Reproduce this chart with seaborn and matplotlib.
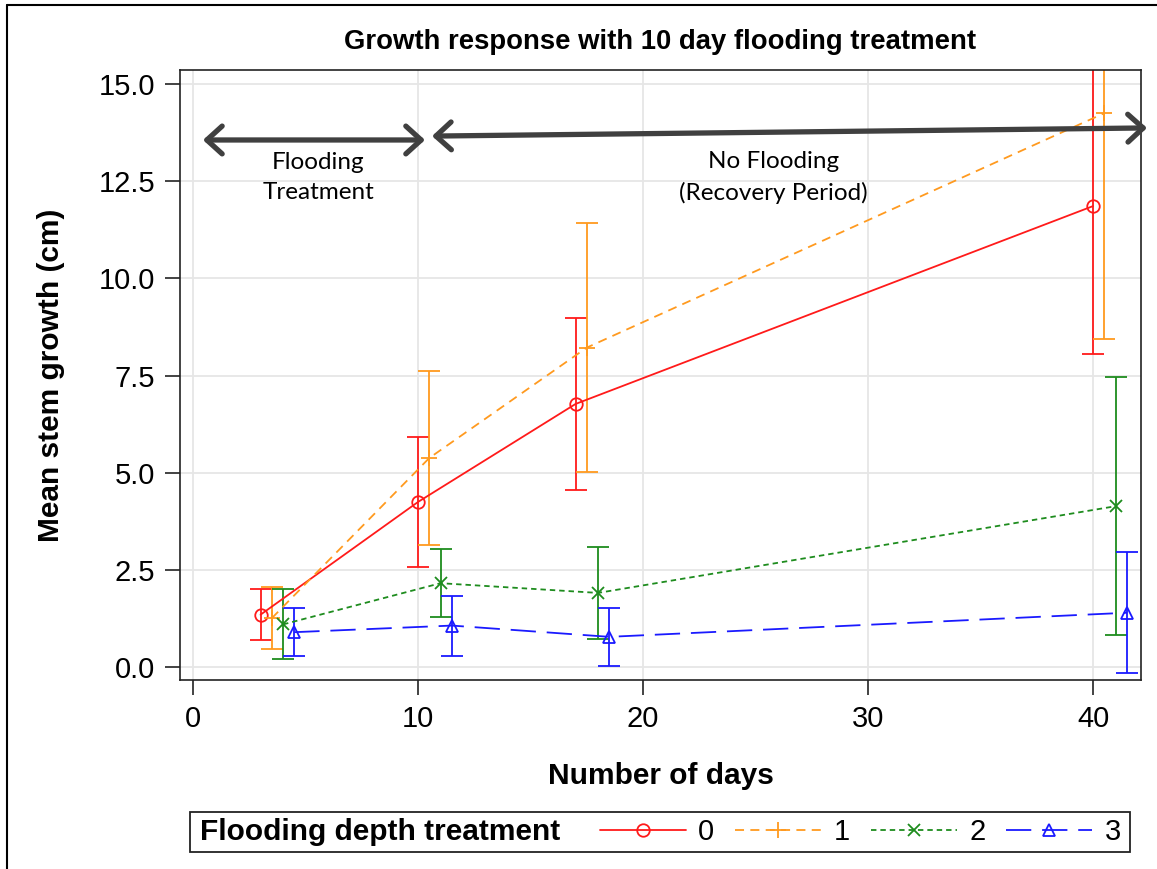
import numpy as np
import pandas as pd
import seaborn as sns
import matplotlib.pyplot as plt
from matplotlib.lines import Line2D
from matplotlib.patches import Rectangle

# Measurement days for each flooding depth (staggered so the error bars stay readable)
days_0 = [3.0, 10.0, 17.0, 40.0]
days_1 = [3.5, 10.5, 17.5, 40.5]
days_2 = [4.0, 11.0, 18.0, 41.0]
days_3 = [4.5, 11.5, 18.5, 41.5]

# Mean stem growth (cm)
mean_0 = [1.35, 4.25, 6.77, 11.86]
mean_1 = [1.26, 5.38, 8.22, 14.25]
mean_2 = [1.10, 2.16, 1.91, 4.14]
mean_3 = [0.90, 1.07, 0.78, 1.40]

# Lower / upper limits of the error bars
lower_0 = [0.69, 2.57, 4.55, 8.05]
upper_0 = [2.01, 5.93, 8.99, 15.67]
lower_1 = [0.47, 3.13, 5.02, 8.43]
upper_1 = [2.05, 7.63, 11.42, 20.07]
lower_2 = [0.20, 1.29, 0.72, 0.82]
upper_2 = [2.00, 3.03, 3.10, 7.46]
lower_3 = [0.29, 0.30, 0.03, -0.15]
upper_3 = [1.51, 1.84, 1.53, 2.95]

depth_labels = ["0", "1", "2", "3"]
x_ticks = [0, 10, 20, 30, 40]
y_ticks = [0.0, 2.5, 5.0, 7.5, 10.0, 12.5, 15.0]

days = [days_0, days_1, days_2, days_3]
means = [mean_0, mean_1, mean_2, mean_3]
lowers = [lower_0, lower_1, lower_2, lower_3]
uppers = [upper_0, upper_1, upper_2, upper_3]

colors = ["#FF1A1A", "#FF9A1F", "#1E8C1E", "#1A1AFF"]
markers = ["o", "+", "x", "^"]
marker_sizes = [9, 11, 9, 9]
dash_patterns = [None, (5, 3.5), (3, 2.2), (14, 6)]

sns.set_theme(style="whitegrid")
plt.rcParams["font.family"] = ["Liberation Sans", "DejaVu Sans"]
plt.rcParams["text.color"] = "black"
plt.rcParams["axes.labelcolor"] = "black"
plt.rcParams["xtick.color"] = "black"
plt.rcParams["ytick.color"] = "black"

fig = plt.figure(figsize=(11.57, 8.69), dpi=100)
ax = fig.add_axes([180 / 1157, 1 - 680 / 869, 961 / 1157, 610 / 869])
ax.set_facecolor("white")

for i, lab in enumerate(depth_labels):
    df = pd.DataFrame({"day": days[i], "growth": means[i]})
    sns.lineplot(data=df, x="day", y="growth", ax=ax, color=colors[i],
                 marker=markers[i], markersize=marker_sizes[i], mfc="none",
                 mec=colors[i], mew=1.3, lw=1.3, errorbar=None, sort=False,
                 zorder=3, legend=False)
    line = ax.lines[-1]
    if dash_patterns[i] is not None:
        line.set_dashes(dash_patterns[i])
    m = np.array(means[i])
    err = [m - np.array(lowers[i]), np.array(uppers[i]) - m]
    ax.errorbar(days[i], means[i], yerr=err, fmt="none", ecolor=colors[i],
                elinewidth=1.3, capsize=8, capthick=1.3, zorder=2)

ax.set_xlim(-0.58, 42.13)
ax.set_ylim(-0.33, 15.36)
ax.set_xticks(x_ticks)
ax.set_yticks(y_ticks)
ax.set_yticklabels([f"{v:.1f}" for v in y_ticks])
ax.grid(True, color="#e6e6e6", lw=1.3)
for s in ax.spines.values():
    s.set_color("#222222")
    s.set_linewidth(1.2)
ax.tick_params(axis="both", which="both", length=11, width=1.2, color="#222222",
               labelsize=21, pad=7, labelcolor="black", bottom=True, left=True)

ax.set_xlabel("Number of days", fontsize=21.5, fontweight="bold", color="black")
ax.set_ylabel("Mean stem growth (cm)", fontsize=21.5, fontweight="bold", color="black")
ax.xaxis.label.set_va("center")
ax.yaxis.label.set_va("center")
ax.xaxis.set_label_coords(0.5, -(776 - 680) / 610)
ax.yaxis.set_label_coords((51 - 180) / 961, 0.5)

fig.text(660 / 1157, 1 - 42 / 869, "Growth response with 10 day flooding treatment",
         ha="center", va="center", fontsize=19.8, fontweight="bold", color="black")

# Period arrows
arrow_kw = dict(arrowstyle="<->,head_length=0.55,head_width=0.5", lw=3.8,
                color="#404040", mutation_scale=20, shrinkA=0, shrinkB=0,
                capstyle="round", joinstyle="round", clip_on=False)
ax.annotate("", xy=(10.31, 13.56), xytext=(0.44, 13.56), arrowprops=arrow_kw,
            annotation_clip=False)
ax.annotate("", xy=(42.4, 13.87), xytext=(10.62, 13.66), arrowprops=arrow_kw,
            annotation_clip=False)

ax.text(5.56, 12.6, "Flooding\nTreatment", ha="center", va="center", fontsize=17.5,
        family=["Lato", "DejaVu Sans"], linespacing=1.55, color="black")
ax.text(25.8, 12.6, "No Flooding\n(Recovery Period)", ha="center", va="center",
        fontsize=17.5, family=["Lato", "DejaVu Sans"], linespacing=1.55, color="black")

# Legend strip below the plot
fig.add_artist(Rectangle((190 / 1157, 1 - 852 / 869), 940 / 1157, 40 / 869,
                         transform=fig.transFigure, fill=False, ec="#222222", lw=1.3))
fig.text(200 / 1157, 1 - 832 / 869, "Flooding depth treatment", ha="left",
         va="center", fontsize=21.5, fontweight="bold", color="black")
handles = []
for i in range(4):
    h = Line2D([], [], color=colors[i], marker=markers[i], markersize=marker_sizes[i],
               mfc="none", mec=colors[i], mew=1.3, lw=1.3)
    if dash_patterns[i] is not None:
        h.set_dashes(dash_patterns[i])
    handles.append(h)
fig.legend(handles, depth_labels, loc="center left",
           bbox_to_anchor=(600 / 1157, 1 - 832 / 869), ncol=4, frameon=False,
           fontsize=21, handlelength=2.95, handletextpad=0.42, columnspacing=0.72,
           borderaxespad=0, borderpad=0)

# Outer frame (top and left edges)
fig.add_artist(Line2D([7 / 1157, 7 / 1157], [0, 1 - 5 / 869], transform=fig.transFigure,
                      color="black", lw=1.5))
fig.add_artist(Line2D([7 / 1157, 1], [1 - 5 / 869, 1 - 5 / 869], transform=fig.transFigure,
                      color="black", lw=1.5))

fig.savefig("out.png", dpi=100)
